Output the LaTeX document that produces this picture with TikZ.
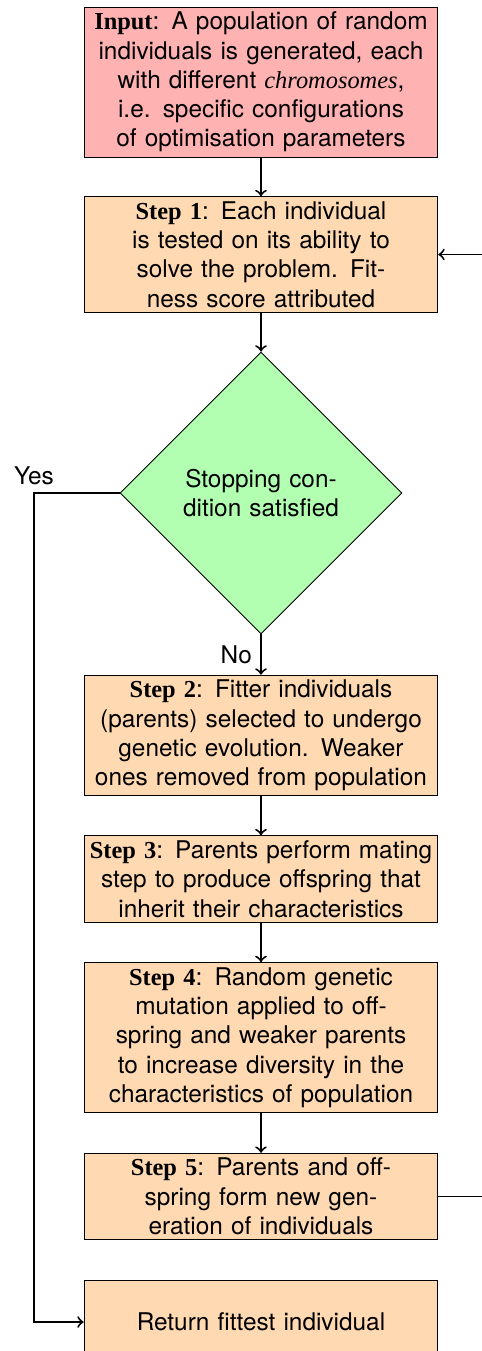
\documentclass[tikz,border=0pt]{standalone}
\usepackage{fontspec}
\setsansfont{TeX Gyre Heros}
\newfontfamily\titlefont{Liberation Serif}
\usetikzlibrary{shapes.geometric,arrows}

\newcommand{\stepname}[1]{{\titlefont\bfseries #1}}

\begin{document}
\begin{tikzpicture}[x=0.41pt, y=-0.41pt, font=\sffamily,
    stepbox/.style={draw=black, fill=orange!30, text width=141pt, align=center,
        inner xsep=2pt, inner ysep=2pt},
    inputbox/.style={stepbox, fill=red!30},
    condbox/.style={diamond, aspect=1, draw=black, fill=green!30, align=center,
        text width=66pt, inner sep=0pt, minimum width=115.6pt, minimum height=115.6pt},
    flow/.style={thick, ->}]
    \useasboundingbox (0,0) rectangle (482,1351);

    % Input
    \node[inputbox] (input) at (261,82) {\stepname{Input}: A population of random\\
        individuals is generated, each\\
        with different {\titlefont\itshape chromosomes},\\
        i.e. specific configurations\\
        of optimisation parameters};

    % Evaluation and stopping test
    \node[stepbox] (step1) at (261,254.5) {\stepname{Step 1}: Each individual\\
        is tested on its ability to\\
        solve the problem. Fit-\\
        ness score attributed};
    \node[condbox] (cond) at (261,493) {Stopping con-\\dition satisfied};

    % Genetic operators
    \node[stepbox] (step2) at (261,735.5) {\stepname{Step 2}: Fitter individuals\\
        (parents) selected to undergo\\
        genetic evolution. Weaker\\
        ones removed from population};
    \node[stepbox] (step3) at (261,879) {\stepname{Step 3}: Parents perform mating\\
        step to produce offspring that\\
        inherit their characteristics};
    \node[stepbox] (step4) at (261,1037.5) {\stepname{Step 4}: Random genetic\\
        mutation applied to off-\\
        spring and weaker parents\\
        to increase diversity in the\\
        characteristics of population};
    \node[stepbox] (step5) at (261,1196.5) {\stepname{Step 5}: Parents and off-\\
        spring form new gen-\\
        eration of individuals};

    % Output
    \node[stepbox, minimum height=34.4pt] (result) at (261,1322) {Return fittest individual};

    % Bends of the two loops
    \coordinate (yescorner) at (34,493);
    \coordinate (loopcorner) at (500,1196.5);

    \draw[flow] (input) -- (step1);
    \draw[flow] (step1) -- (cond);
    \draw[flow] (cond) -- node[left] {No} (step2);
    \draw[flow] (step2) -- (step3);
    \draw[flow] (step3) -- (step4);
    \draw[flow] (step4) -- (step5);
    \draw[flow] (cond.west) -- (yescorner) |- (result.west);
    \node[above] (yes) at (yescorner) {Yes};
    \draw[flow] (step5.east) -- (loopcorner) |- (step1.east);
\end{tikzpicture}
\end{document}
